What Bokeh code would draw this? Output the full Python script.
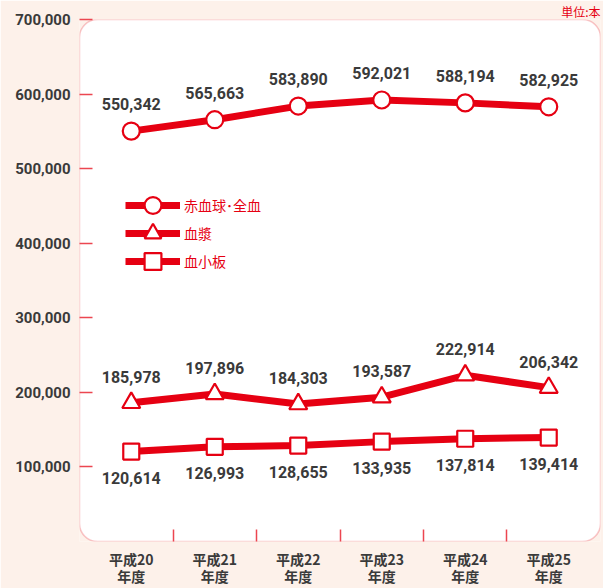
from bokeh.plotting import figure
from bokeh.models import (FixedTicker, BoxAnnotation, Legend, LegendItem,
                          ColumnDataSource, NumeralTickFormatter, Range1d)
from bokeh.embed import file_html
from bokeh.resources import INLINE
from bokeh.core.properties import value

years = ["平成20\n年度", "平成21\n年度", "平成22\n年度", "平成23\n年度", "平成24\n年度", "平成25\n年度"]
rbc = [550342, 565663, 583890, 592021, 588194, 582925]
plasma = [185978, 197896, 184303, 193587, 222914, 206342]
platelet = [120614, 126993, 128655, 133935, 137814, 139414]
names = ["赤血球･全血", "血漿", "血小板"]
y_ticks = [100000, 200000, 300000, 400000, 500000, 600000, 700000]
unit_text = "単位:本"

RED = "#e60012"
BORDER = "#ec4650"
TXT = "#3a3a3a"
FONT = "Roboto"
TINT = "#fdf1ea"

xs = list(range(len(years)))

p = figure(width=603, height=588, output_backend="svg", toolbar_location=None,
           x_range=Range1d(-0.62, 5.62), y_range=Range1d(0, 700000),
           min_border_left=79, min_border_top=17, min_border_right=3, min_border_bottom=47)
p.xgrid.visible = False
p.ygrid.visible = False
p.outline_line_color = None
p.border_fill_color = TINT
p.background_fill_color = TINT

p.title.text = unit_text
p.title.align = "right"
p.title.text_color = RED
p.title.text_font = "Noto Sans CJK JP"
p.title.text_font_size = "12px"
p.title.text_font_style = "normal"
p.title.standoff = 0
p.title.offset = 0

panel = BoxAnnotation(left=-0.62, right=5.62, bottom=0, top=700000, fill_color="white",
                      fill_alpha=1, line_color=BORDER, line_width=1.5,
                      border_radius=18, level="underlay")
p.add_layout(panel)

# axes
p.yaxis.ticker = FixedTicker(ticks=y_ticks)
p.yaxis.formatter = NumeralTickFormatter(format="0,0")
p.yaxis.axis_line_color = None
p.yaxis.major_tick_in = 13
p.yaxis.major_tick_out = 0
p.yaxis.major_tick_line_color = BORDER
p.yaxis.major_tick_line_width = 1.5
p.yaxis.minor_tick_line_color = None
p.yaxis.major_label_text_font = FONT
p.yaxis.major_label_text_font_size = "15px"
p.yaxis.major_label_text_font_style = "bold"
p.yaxis.major_label_text_color = TXT
p.yaxis.major_label_standoff = 9

p.xaxis.ticker = FixedTicker(ticks=xs, minor_ticks=[0.5, 1.5, 2.5, 3.5, 4.5])
p.xaxis.major_label_overrides = {i: years[i] for i in xs}
p.xaxis.axis_line_color = None
p.xaxis.major_tick_line_color = None
p.xaxis.major_tick_in = 0
p.xaxis.major_tick_out = 0
p.xaxis.minor_tick_in = 12
p.xaxis.minor_tick_out = 0
p.xaxis.minor_tick_line_color = BORDER
p.xaxis.minor_tick_line_width = 1.5
p.xaxis.major_label_text_font = "Noto Sans CJK JP"
p.xaxis.major_label_text_font_size = "14px"
p.xaxis.major_label_text_font_style = "bold"
p.xaxis.major_label_text_color = TXT
p.xaxis.major_label_text_line_height = 0.85
p.xaxis.major_label_standoff = 7

series = [rbc, plasma, platelet]
markers = ["circle", "triangle", "square"]
msizes = [17, 18, 16]
offsets = [-27, -26, 26]
legend_y = [315, 287, 259]
for vals, mk, ms, off, nm, ly in zip(series, markers, msizes, offsets, names, legend_y):
    src = ColumnDataSource(dict(x=xs, y=vals, lab=[f"{v:,}" for v in vals]))
    ln = p.line("x", "y", source=src, line_color=RED, line_width=7)
    sc = p.scatter("x", "y", source=src, marker=mk, size=ms, fill_color="white",
                   line_color=RED, line_width=2.2)
    p.text("x", "y", text="lab", source=src, y_offset=off, text_align="center",
           text_baseline="middle", text_font=value(FONT), text_font_size="16px",
           text_font_style="bold", text_color=TXT)
    lg = Legend(items=[LegendItem(label=nm, renderers=[ln, sc])], location=(46, ly),
                glyph_width=55, glyph_height=42, label_height=42,
                label_standoff=4, padding=0, margin=0, background_fill_alpha=0,
                border_line_color=None, label_text_color=RED,
                label_text_font="Noto Sans CJK JP", label_text_font_size="14px")
    p.add_layout(lg, "center")

open("out.html", "w").write(file_html(p, INLINE))
